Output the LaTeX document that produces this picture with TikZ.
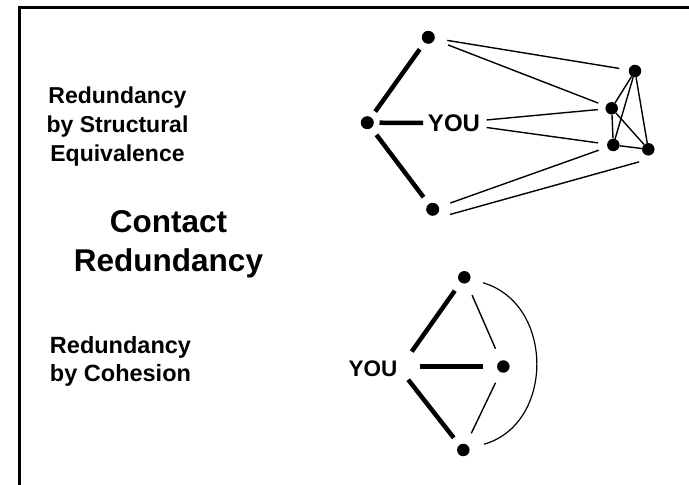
\documentclass[tikz,border=0pt]{standalone}
\usepackage{fontspec}
\setmainfont{Liberation Sans}
\usetikzlibrary{positioning}

\tikzset{
  dot/.style={circle, fill=black, inner sep=0pt, minimum size=12.5pt},
  youtext/.style={font=\bfseries\fontsize{24}{24}\selectfont, inner sep=2pt},
  sidetext/.style={align=center, inner sep=0pt},
  strongtie/.style={line width=4.5pt},
  weaktie/.style={line width=1.4pt}
}

\begin{document}
\begin{tikzpicture}[x=1pt, y=1pt]
    \useasboundingbox (0,0) rectangle (689,485);

    % Frame
    \draw[line width=3pt] (19.3,0) |- (689,477.5);

    % Captions
    \node[sidetext, font=\bfseries\fontsize{23}{29.2}\selectfont] (sequiv) at (117.5,358.5) {
        Redundancy\\by Structural\\Equivalence
    };
    \node[sidetext, font=\bfseries\fontsize{31.5}{39}\selectfont] (title) at (168.5,240.7) {
        Contact\\Redundancy
    };
    \node[sidetext, font=\bfseries\fontsize{23.5}{28}\selectfont] (cohesion) at (120.5,124) {
        Redundancy\\by Cohesion
    };

    % Structural equivalence: ego, contacts and the clique they share
    \node[youtext] (you1) at (454,362) {YOU};
    \node[dot, minimum size=13pt] (a) at (428.3,447.7) {};
    \node[dot, minimum size=13pt] (l) at (367.3,362.3) {};
    \node[dot, minimum size=13pt] (b) at (432.7,275.7) {};
    \node[dot] (c1) at (635,414) {};
    \node[dot] (c2) at (611.7,376.7) {};
    \node[dot] (c3) at (613.3,340) {};
    \node[dot] (c4) at (648.3,335.7) {};

    \draw[strongtie, shorten <=8pt, shorten >=7pt] (a) -- (l);
    \draw[strongtie, shorten <=8.5pt, shorten >=8.5pt] (l) -- (b);
    \draw[strongtie, shorten <=5.5pt, shorten >=2.7pt] (l) -- (you1);

    \draw[weaktie, shorten <=12.5pt, shorten >=9.5pt] (a) -- (c1);
    \draw[weaktie, shorten <=14.5pt, shorten >=8pt] (a) -- (c2);
    \draw[weaktie, shorten <=4.5pt, shorten >=7.5pt] (you1) -- (c2);
    \draw[weaktie, shorten <=4.5pt, shorten >=9pt] (you1) -- (c3);
    \draw[weaktie, shorten <=12pt, shorten >=9pt] (b) -- (c3);
    \draw[weaktie, shorten <=18pt, shorten >=9.5pt] ([yshift=-10pt]b.center) -- ([yshift=-10pt]c4.center);

    \foreach \u/\v in {c1/c2, c1/c3, c1/c4, c2/c3, c2/c4, c3/c4}
        \draw[weaktie] (\u) -- (\v);

    % Cohesion: contacts tied to one another
    \node[youtext, font=\bfseries\fontsize{22.5}{22.5}\selectfont] (you2) at (373,116.3) {YOU};
    \node[dot] (t) at (464.3,207.7) {};
    \node[dot] (m) at (503.3,118.5) {};
    \node[dot] (bt) at (463.3,35) {};

    \draw[strongtie, shorten <=21pt, shorten >=10pt] (you2.east) -- (t);
    \draw[strongtie, shorten <=20pt, shorten >=14pt] (you2.east |- m) -- (m);
    \draw[strongtie, shorten <=14pt, shorten >=9pt] (you2.east) -- (bt);

    \draw[weaktie, shorten <=13pt, shorten >=13pt] (t) -- (m);
    \draw[weaktie, shorten <=11.5pt, shorten >=12pt] (m) -- (bt);
    \draw[weaktie, line width=1.2pt, shorten <=13pt, shorten >=15pt] (t) to[bend left=74, looseness=1.33] (bt);
\end{tikzpicture}
\end{document}
